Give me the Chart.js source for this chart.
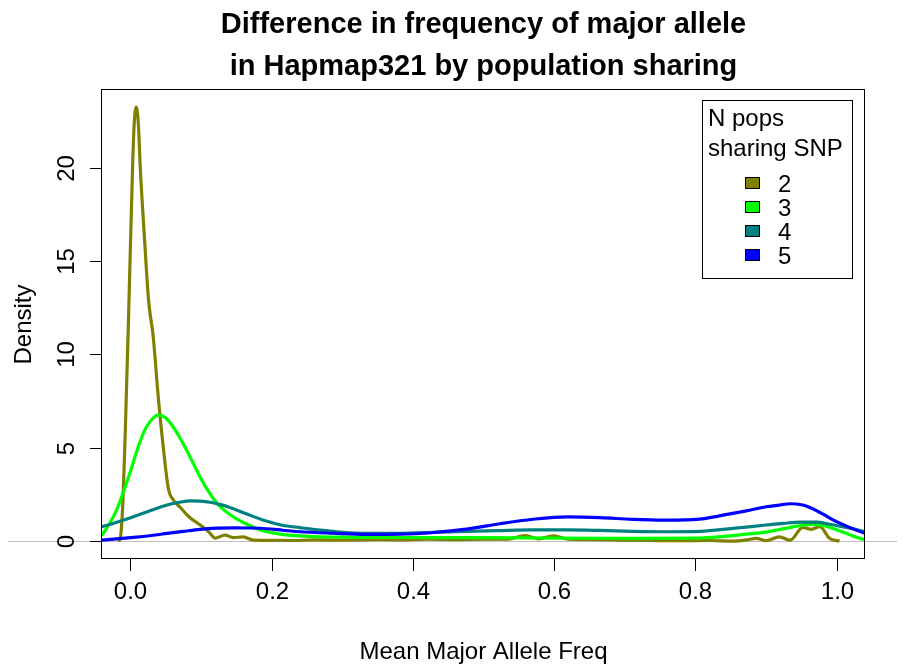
<!DOCTYPE html>
<html><head><meta charset="utf-8">
<script src="https://cdn.jsdelivr.net/npm/chart.js@4/dist/chart.umd.min.js"></script>
<style>html,body{margin:0;padding:0;background:#fff;}canvas{display:block;}</style>
</head><body>
<canvas id="c" width="905" height="665"></canvas>
<script>
// ---- data ----
const chartTitle = ["Difference in frequency of major allele", "in Hapmap321 by population sharing"];
const xAxisTitle = "Mean Major Allele Freq";
const yAxisTitle = "Density";
const legendTitle = ["N pops", "sharing SNP"];
const seriesNames = ["2", "3", "4", "5"];
const xTicks = [0, 0.2, 0.4, 0.6, 0.8, 1.0];
const xTickLabels = ["0.0", "0.2", "0.4", "0.6", "0.8", "1.0"];
const yTicks = [0, 5, 10, 15, 20];
const yTickLabels = ["0", "5", "10", "15", "20"];

const x2 = [-0.017,-0.0141,-0.0103,-0.0071,-0.0024,0.0033,0.0055,0.0085,0.0115,0.0141,0.020,0.0259,0.0293,0.0321,0.040,0.0471,0.054,0.061,0.071,0.083,0.099,0.108,0.113,0.120,0.134,0.146,0.160,0.174,0.20,0.23,0.26,0.30,0.34,0.38,0.42,0.46,0.50,0.535,0.559,0.578,0.599,0.62,0.66,0.70,0.74,0.78,0.82,0.853,0.872,0.886,0.90,0.919,0.934,0.952,0.964,0.976,0.99,1.004];
const y2 = [0,0.16,2.2,5.8,12.0,20.05,22.3,23.25,22.3,20.05,16.3,12.9,11.84,11.1,7.55,4.9,2.8,2.2,1.8,1.3,0.86,0.6,0.41,0.16,0.32,0.18,0.23,0.05,0.04,0.03,0.06,0.05,0.08,0.06,0.1,0.08,0.1,0.1,0.3,0.12,0.28,0.1,0.08,0.05,0.03,0.02,0.03,0.0,0.06,0.14,0.02,0.23,0.05,0.73,0.63,0.77,0.14,0];

const x3 = [-0.045,-0.041,-0.03,-0.02,-0.01,0.0,0.01,0.02,0.03,0.04,0.05,0.06,0.07,0.08,0.09,0.10,0.11,0.12,0.13,0.14,0.15,0.165,0.18,0.20,0.22,0.26,0.30,0.36,0.42,0.5,0.6,0.7,0.806,0.84,0.872,0.9,0.919,0.938,0.957,0.965,0.975,0.985,1.0,1.014,1.03,1.045];
const y3 = [0.25,0.3,0.9,1.6,2.6,3.7,4.9,5.9,6.5,6.75,6.6,6.15,5.55,4.85,4.1,3.35,2.7,2.15,1.75,1.45,1.2,0.9,0.65,0.45,0.33,0.24,0.21,0.2,0.18,0.18,0.16,0.15,0.16,0.25,0.37,0.48,0.62,0.76,0.88,0.9,0.87,0.8,0.6,0.41,0.18,0.02];

const x4 = [-0.045,-0.041,-0.02,0.0047,0.03,0.052,0.07,0.085,0.1,0.113,0.128,0.141,0.165,0.19,0.215,0.24,0.265,0.287,0.335,0.382,0.43,0.476,0.52,0.57,0.618,0.665,0.711,0.758,0.806,0.853,0.9,0.925,0.948,0.971,0.99,1.004,1.02,1.04,1.045];
const y4 = [0.72,0.76,1.0,1.3,1.65,1.93,2.08,2.15,2.14,2.08,1.95,1.8,1.45,1.1,0.85,0.72,0.6,0.52,0.42,0.42,0.47,0.52,0.56,0.6,0.6,0.57,0.52,0.5,0.52,0.68,0.86,0.95,1.01,1.01,0.9,0.8,0.68,0.5,0.47];

const x5 = [-0.045,-0.041,-0.02,0.0047,0.03,0.052,0.075,0.099,0.123,0.146,0.17,0.193,0.216,0.24,0.287,0.335,0.382,0.429,0.476,0.523,0.57,0.618,0.665,0.711,0.759,0.806,0.834,0.853,0.872,0.90,0.919,0.934,0.952,0.962,0.985,0.994,1.014,1.04,1.045];
const y5 = [0.04,0.05,0.12,0.2,0.3,0.41,0.52,0.63,0.69,0.71,0.7,0.66,0.58,0.5,0.42,0.36,0.37,0.46,0.64,0.93,1.17,1.3,1.26,1.16,1.12,1.18,1.35,1.48,1.62,1.84,1.93,2.0,1.93,1.8,1.35,1.15,0.8,0.41,0.36];

// ---- styles ----
const seriesColors = ["#808000", "#00ff00", "#008080", "#0000ff"];
const FONT = '"Liberation Sans", Arial, Helvetica, sans-serif';

const seriesX = [x2, x3, x4, x5];
const seriesY = [y2, y3, y4, y5];

const datasets = seriesNames.map((name, i) => ({
  label: name,
  data: seriesX[i].map((x, j) => ({x: x, y: seriesY[i][j]})),
  borderColor: seriesColors[i],
  backgroundColor: seriesColors[i],
  borderWidth: 3.2,
  pointRadius: 0,
  fill: false,
  cubicInterpolationMode: 'monotone',
  clip: 0,
  order: seriesNames.length - i
}));

const rPlot = {
  id: 'rPlot',
  beforeDatasetsDraw(chart) {
    const ctx = chart.ctx, ys = chart.scales.y;
    const y0 = Math.round(ys.getPixelForValue(0)) + 0.5;
    ctx.save();
    ctx.strokeStyle = '#bebebe';
    ctx.lineWidth = 1;
    ctx.beginPath(); ctx.moveTo(8, y0); ctx.lineTo(897, y0); ctx.stroke();
    ctx.restore();
  },
  afterDatasetsDraw(chart) {
    const ctx = chart.ctx, a = chart.chartArea;
    const xs = chart.scales.x, ys = chart.scales.y;
    ctx.save();
    ctx.strokeStyle = '#000';
    ctx.fillStyle = '#000';
    ctx.lineWidth = 1;
    // frame
    ctx.strokeRect(a.left - 0.5, a.top - 0.5, a.right - a.left, a.bottom - a.top);
    // x ticks
    ctx.font = '24px ' + FONT;
    ctx.textAlign = 'center';
    ctx.textBaseline = 'alphabetic';
    xTicks.forEach((v, i) => {
      const px = Math.round(xs.getPixelForValue(v)) + 0.5;
      ctx.beginPath(); ctx.moveTo(px, a.bottom); ctx.lineTo(px, a.bottom + 12); ctx.stroke();
      ctx.fillText(xTickLabels[i], px, 599);
    });
    // y ticks
    yTicks.forEach((v, i) => {
      const py = Math.round(ys.getPixelForValue(v)) + 0.5;
      ctx.beginPath(); ctx.moveTo(a.left, py); ctx.lineTo(a.left - 12, py); ctx.stroke();
      ctx.save();
      ctx.translate(74, py);
      ctx.rotate(-Math.PI / 2);
      ctx.fillText(yTickLabels[i], 0, 0);
      ctx.restore();
    });
    // axis titles
    ctx.fillText(xAxisTitle, (a.left + a.right) / 2, 659);
    ctx.save();
    ctx.translate(31, (a.top + a.bottom) / 2);
    ctx.rotate(-Math.PI / 2);
    ctx.fillText(yAxisTitle, 0, 0);
    ctx.restore();
    // title
    ctx.font = 'bold 29px ' + FONT;
    ctx.fillText(chartTitle[0], (a.left + a.right) / 2, 33);
    ctx.fillText(chartTitle[1], (a.left + a.right) / 2, 75);
    // legend
    ctx.strokeRect(702.5, 100.5, 150, 178);
    ctx.font = '24px ' + FONT;
    ctx.textAlign = 'left';
    ctx.fillText(legendTitle[0], 708, 126);
    ctx.fillText(legendTitle[1], 708, 156);
    const rowY = [183, 207, 231, 255];
    chart.data.datasets.forEach((ds, i) => {
      const cy = rowY[i];
      ctx.fillStyle = ds.borderColor;
      ctx.fillRect(745.5, cy - 5.5, 14, 11);
      ctx.strokeStyle = '#000';
      ctx.strokeRect(745.5, cy - 5.5, 14, 11);
      ctx.fillStyle = '#000';
      ctx.fillText(ds.label, 778, cy + 8.5);
    });
    ctx.restore();
  }
};

new Chart(document.getElementById('c'), {
  type: 'line',
  data: { datasets: datasets },
  options: {
    responsive: false,
    animation: false,
    devicePixelRatio: 1,
    layout: { padding: { left: 102, right: 40, top: 90, bottom: 106 } },
    scales: {
      x: { type: 'linear', min: -0.04, max: 1.04, display: false },
      y: { type: 'linear', min: -0.96, max: 24.16, display: false }
    },
    plugins: { legend: { display: false }, tooltip: { enabled: false }, title: { display: false } }
  },
  plugins: [rPlot]
});
</script>
</body></html>
